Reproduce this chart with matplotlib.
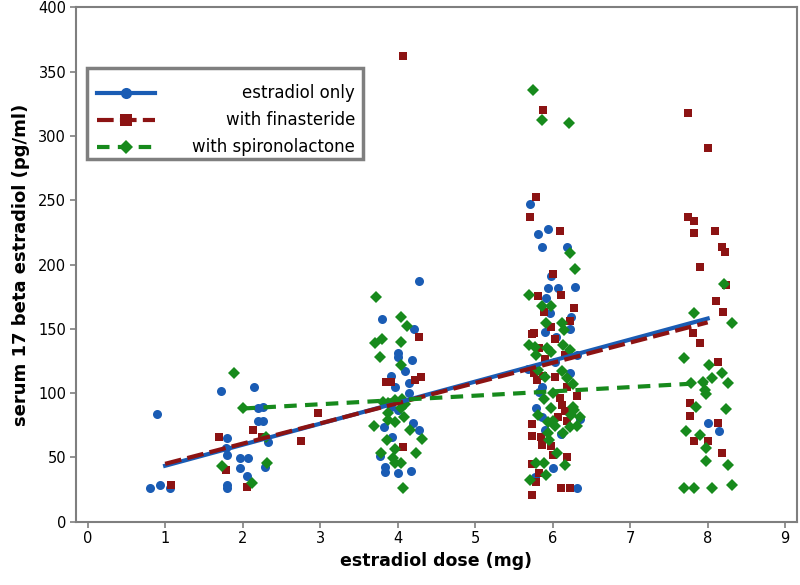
import matplotlib
import matplotlib.pyplot as plt
from matplotlib.lines import Line2D
from matplotlib.patches import Rectangle

matplotlib.use("Agg")

BLUE = "#1a5cb4"
RED = "#8c1313"
GREEN = "#178a1c"
GRAY = "#7f7f7f"

# estradiol only
only_x = [0.89, 0.81, 0.94, 1.06,
          1.72, 2.15, 2.20, 2.26, 2.20, 2.26, 1.80, 1.78, 1.80, 1.97, 2.07, 1.96, 2.06, 1.80, 1.80, 2.29, 2.33,
          4.27, 3.80, 4.21, 4.01, 4.01, 4.19, 4.09, 3.91, 3.97, 4.15, 4.15, 3.92, 4.00, 3.83, 4.20, 4.27,
          3.93, 3.77, 3.84, 3.84, 4.00, 4.17,
          5.71, 5.81, 5.94, 5.86, 6.18, 5.98, 5.94, 6.07, 6.29, 5.92, 5.96, 6.24, 5.90, 6.23, 6.04, 6.31,
          6.03, 5.68, 6.23, 5.86, 5.83, 5.79, 5.86, 6.35, 5.90, 6.11, 6.00, 5.77, 6.32,
          8.00, 8.15]
only_y = [83.7, 26, 28.5, 26,
          101.9, 104.5, 88.4, 89, 78, 78, 65, 57, 52, 49.5, 49.5, 41.5, 35.5, 28.5, 26, 42.8, 62,
          187, 157.4, 149.6, 131.4, 128.3, 125.7, 117.4, 113.3, 105, 107.6, 99.8, 89.4, 86.9, 73.9, 76.5, 71.3,
          65.6, 51.1, 42.8, 38.9, 38.1, 39.7,
          247, 223.7, 227.4, 213.4, 213.4, 191, 181.5, 181.5, 182.7, 173.7, 162.5, 159.4, 147.7, 149.6, 143.9, 129.6,
          124.4, 118.5, 115.4, 105, 101.1, 88.2, 81.6, 79.8, 71.3, 68.2, 41.5, 35, 26,
          76.5, 70.8]

# with finasteride
fin_x = [1.07,
         1.70, 1.79, 2.06, 2.13, 2.25, 2.75, 2.97,
         4.07, 4.27, 3.85, 3.91, 4.22, 4.30, 4.07,
         5.88, 5.79, 5.71, 6.09, 6.00, 5.81, 6.11, 5.89, 6.28, 6.22, 5.98, 5.73, 5.76, 6.03, 5.83, 6.16,
         5.90, 5.76, 5.88, 6.03, 5.80, 6.19, 6.31, 6.10, 6.12, 6.16, 6.07, 5.73, 6.19, 5.73, 5.85, 5.86,
         5.98, 6.00, 6.18, 5.73, 5.83, 5.79, 5.73, 6.11, 6.22,
         7.75, 8.00, 7.75, 7.83, 7.83, 8.09, 8.18, 8.22, 7.90, 8.24, 8.11, 8.20, 7.81, 7.90, 8.13,
         7.77, 7.77, 8.13, 7.83, 8.00, 8.18]
fin_y = [28.5,
         65.6, 40, 26.7, 71.3, 66, 63, 84.8,
         362, 143.9, 108.9, 108.9, 110.2, 112.3, 57.9,
         320, 252.7, 236.7, 226.3, 192.6, 175.5, 176.3, 163.3, 166, 156.3, 151.6, 146, 147, 141.8, 134.8, 129.6,
         126.3, 115.9, 113.3, 112.8, 110.2, 104.5, 97.7, 96, 90.7, 86.4, 81.6, 76, 78.5, 66.6, 66.1, 59.6,
         58.9, 51.9, 50.1, 44.9, 38.1, 31.1, 20.8, 26, 26,
         317.6, 290.4, 237.2, 234.1, 224.7, 226.3, 213.8, 210, 197.8, 184, 171.6, 163.3, 146.5, 139.2, 124.4,
         92.5, 82.2, 76.5, 63, 63, 53.7]

# with spironolactone
spi_x = [1.89, 2.01, 2.30, 1.74, 2.12, 2.32,
         3.72, 4.04, 4.12, 3.71, 3.80, 4.04, 3.77, 4.04, 3.81, 3.88, 3.96, 4.05, 4.09, 3.88, 4.04, 4.08,
         3.88, 3.97, 3.69, 4.16, 4.31, 3.86, 4.24, 3.79, 3.97, 3.94, 3.97, 4.04, 4.07,
         5.75, 5.86, 6.21, 6.23, 6.29, 5.69, 5.86, 5.98, 5.92, 6.12, 6.15, 5.69, 5.77, 5.93, 5.98, 6.13,
         6.23, 5.79, 5.81, 6.12, 5.90, 6.18, 6.26, 6.00, 5.89, 5.98, 6.26, 6.28, 5.81, 6.24, 6.35, 5.94,
         6.00, 6.03, 6.31, 6.23, 5.94, 6.13, 5.95, 6.05, 5.79, 5.89, 6.16, 5.92, 5.71,
         8.21, 7.83, 8.31, 7.70, 8.02, 8.18, 8.26, 7.79, 7.94, 8.05, 7.96, 7.98, 7.85, 8.24, 7.72, 7.90,
         7.98, 7.98, 8.26, 7.70, 7.83, 8.05, 8.31]
spi_y = [116, 88.6, 66, 43.3, 29.9, 46,
         175, 159.4, 152.2, 138.7, 141.8, 140, 128.3, 121.9, 93.3, 92, 94.6, 95.2, 91.5, 84.3, 88.2, 81.6,
         79.1, 77.4, 74.4, 71.3, 64, 63.5, 53.7, 53.7, 56.3, 49.3, 45.4, 45.4, 26,
         336, 312, 310, 209, 196.3, 176.3, 167.7, 167.7, 154.7, 154.7, 149, 137.4, 136, 134.8, 132.2, 137.4,
         133.5, 129.6, 118, 117.4, 112.8, 111.5, 107.1, 100.3, 95.2, 88.2, 89.4, 86.9, 83, 83, 81.6, 77.2,
         78.5, 74.6, 74.6, 73.3, 68.6, 68.7, 63.5, 53.7, 45.9, 45.9, 44.1, 36.3, 32.4,
         184.8, 162.5, 154.3, 127, 121.9, 115.4, 108.1, 107.6, 108.9, 111.5, 102.4, 99.3, 89.4, 87.4, 70.8, 67.4,
         57.1, 47.4, 44.1, 26.4, 26.4, 26.4, 28.5]

# fitted lines
only_fit_x = [1, 8]
only_fit_y = [43.5, 158]
fin_fit_x = [1, 8]
fin_fit_y = [45, 155]
spi_fit_x = [2, 8]
spi_fit_y = [88, 108]

labels = ["estradiol only", "with finasteride", "with spironolactone"]

fig = plt.figure(figsize=(8, 5.85), dpi=100)
ax = fig.add_axes([0.095, 0.1082, 0.901, 0.8793])

ax.plot(only_x, only_y, "o", color=BLUE, ms=6.5, mew=0, zorder=3)
ax.plot(fin_x, fin_y, "s", color=RED, ms=6.3, mew=0, zorder=3)
ax.plot(spi_x, spi_y, "D", color=GREEN, ms=5.8, mew=0, zorder=3)

ax.plot(only_fit_x, only_fit_y, "-", color=BLUE, lw=3, zorder=4)
ax.plot(fin_fit_x, fin_fit_y, color=RED, lw=3, dashes=(4, 1.5), zorder=4)
ax.plot(spi_fit_x, spi_fit_y, color=GREEN, lw=3, dashes=(3, 2), zorder=4)

ax.set_xlim(-0.15, 9.15)
ax.set_ylim(0, 400)
ax.set_xticks(range(0, 10))
ax.set_yticks(range(0, 401, 50))

for side in ["left", "bottom", "top", "right"]:
    ax.spines[side].set_color(GRAY)
    ax.spines[side].set_linewidth(1.5)
ax.tick_params(axis="both", direction="out", length=4, width=1.2, color=GRAY,
               labelsize=10.5, labelcolor="black", pad=3)
ax.tick_params(top=False, right=False)

ax.set_xlabel("estradiol dose (mg)", fontsize=12.5, fontweight="bold", labelpad=4)
ax.set_ylabel("serum 17 beta estradiol (pg/ml)", fontsize=13, fontweight="bold", labelpad=6)

# legend with right-aligned labels, drawn by hand
tr = ax.transAxes
ax.add_patch(Rectangle((0.0153, 0.705), 0.383, 0.177, transform=tr, facecolor="white",
                       edgecolor=GRAY, lw=2.5, zorder=6))
row_y = [0.834, 0.780, 0.729]
handles = [
    dict(color=BLUE, marker="o", ms=8, dashes=None),
    dict(color=RED, marker="s", ms=8, dashes=(4, 1.5)),
    dict(color=GREEN, marker="D", ms=7, dashes=(3, 2)),
]
for yy, h, lab in zip(row_y, handles, labels):
    kw = dict(color=h["color"], lw=3, transform=tr, zorder=7)
    if h["dashes"]:
        kw["dashes"] = h["dashes"]
    ax.add_line(Line2D([0.029, 0.110], [yy, yy], **kw))
    ax.add_line(Line2D([0.0695], [yy], marker=h["marker"], ms=h["ms"], color=h["color"],
                       mew=0, ls="none", transform=tr, zorder=8))
    ax.text(0.387, yy, lab, transform=tr, ha="right", va="center", fontsize=12, zorder=8)

fig.savefig("out.png", dpi=100)
